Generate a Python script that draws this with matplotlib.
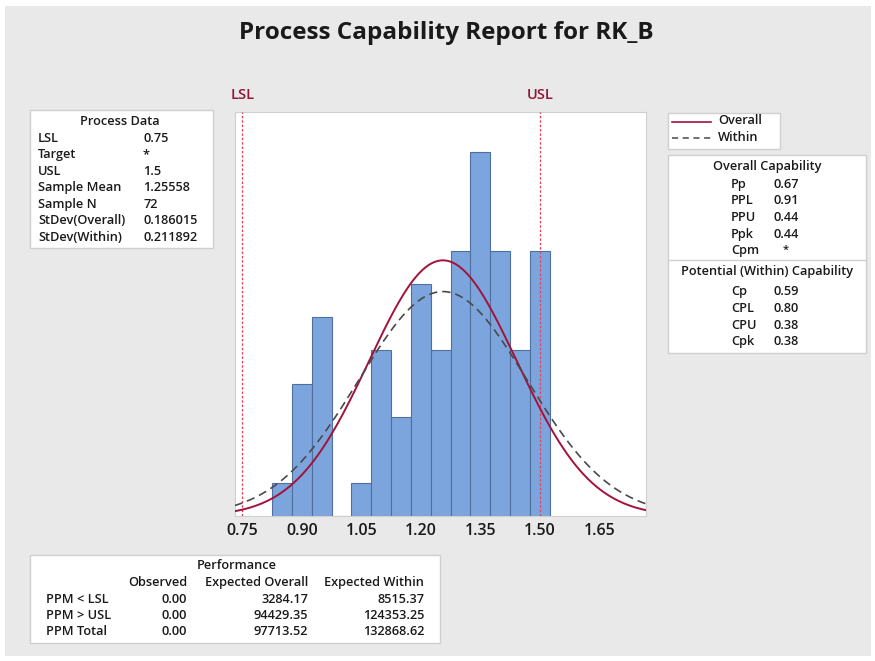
import matplotlib.pyplot as plt
import numpy as np
from matplotlib.patches import Rectangle
from matplotlib.lines import Line2D

plt.rcParams['font.family'] = ['Open Sans', 'DejaVu Sans']

# histogram data (bin centres, counts)
bin_centers = [0.85, 0.90, 0.95, 1.00, 1.05, 1.10, 1.15, 1.20, 1.25, 1.30, 1.35, 1.40, 1.45, 1.50]
counts = [1, 4, 6, 0, 1, 5, 3, 7, 5, 8, 11, 8, 5, 8]
bin_width = 0.05
x_ticks = [0.75, 0.90, 1.05, 1.20, 1.35, 1.50, 1.65]

lsl = 0.75
usl = 1.5
mean = 1.25558
n = 72
sd_overall = 0.186015
sd_within = 0.211892

process_labels = ["LSL", "Target", "USL", "Sample Mean", "Sample N", "StDev(Overall)", "StDev(Within)"]
process_values = ["0.75", "*", "1.5", "1.25558", "72", "0.186015", "0.211892"]

overall_labels = ["Pp", "PPL", "PPU", "Ppk", "Cpm"]
overall_values = ["0.67", "0.91", "0.44", "0.44", "*"]
within_labels = ["Cp", "CPL", "CPU", "Cpk"]
within_values = ["0.59", "0.80", "0.38", "0.38"]

perf_cols = ["Observed", "Expected Overall", "Expected Within"]
perf_rows = ["PPM < LSL", "PPM > USL", "PPM Total"]
perf_observed = ["0.00", "0.00", "0.00"]
perf_overall = ["3284.17", "94429.35", "97713.52"]
perf_within = ["8515.37", "124353.25", "132868.62"]

W, H = 875, 661
fig = plt.figure(figsize=(W / 100, H / 100), dpi=100)
fig.patch.set_facecolor('white')

def fx(x):
    return x / W

def fy(y):
    return 1 - y / H

# grey panel behind everything
fig.patches.append(Rectangle((fx(5), fy(656)), fx(866), 650 / H, transform=fig.transFigure,
                             facecolor='#E9E9E9', edgecolor='none', zorder=-5))

def box(x0, y0, x1, y1):
    fig.patches.append(Rectangle((fx(x0), fy(y1)), fx(x1 - x0), (y1 - y0) / H,
                                 transform=fig.transFigure, facecolor='white',
                                 edgecolor='#CFCFCF', lw=1, zorder=1))

def txt(x, y, s, ha='left', size=9.2, **kw):
    fig.text(fx(x), fy(y), s, ha=ha, va='center', fontsize=size, color='#1A1A1A',
             fontweight='semibold', zorder=3, **kw)

def val_txt(x, y, s):
    # a lone asterisk sits centred in the value column
    if s == "*":
        txt(x + 12, y, s, ha='center', size=8)
    else:
        txt(x, y, s)

fig.text(fx(446), fy(33), "Process Capability Report for RK_B", ha='center', va='center',
         fontsize=17.5, fontweight='bold', color='#1A1A1A')

# main histogram
ax = fig.add_axes([fx(235), fy(516), fx(646 - 235), (516 - 112) / H], zorder=2)
ax.bar(bin_centers, counts, width=bin_width, color='#7DA5DD', edgecolor='#4F6F9F', lw=0.8, zorder=2)

xs = np.linspace(0.73, 1.77, 400)
scale = n * bin_width
pdf_overall = scale * np.exp(-0.5 * ((xs - mean) / sd_overall) ** 2) / (sd_overall * np.sqrt(2 * np.pi))
pdf_within = scale * np.exp(-0.5 * ((xs - mean) / sd_within) ** 2) / (sd_within * np.sqrt(2 * np.pi))
ax.plot(xs, pdf_overall, color='#A3123A', lw=1.4, zorder=4)
ax.plot(xs, pdf_within, color='#4A4A4A', lw=1.2, ls=(0, (5, 3)), zorder=4)

for v, lab in [(lsl, "LSL"), (usl, "USL")]:
    ax.axvline(v, color='#E2405E', lw=0.9, ls=(0, (2, 1.5)), zorder=3)
    ax.text(v, 1.025, lab, transform=ax.get_xaxis_transform(), ha='center', va='bottom',
            fontsize=10.5, fontweight='semibold', color='#8E1538', clip_on=False)

ax.set_xlim(0.7316, 1.7674)
ax.set_ylim(0, 12.2)
ax.set_xticks(x_ticks)
ax.set_xticklabels([f"{t:.2f}" for t in x_ticks], fontsize=11.5, fontweight='semibold', color='#1A1A1A')
ax.tick_params(axis='x', length=0, pad=5)
ax.set_yticks([])
for sp in ax.spines.values():
    sp.set_color('#D0D0D0')
    sp.set_linewidth(0.8)

# process data box
box(30, 110, 213, 248)
txt(120, 121.5, "Process Data", ha='center')
for i, (lab, val) in enumerate(zip(process_labels, process_values)):
    y = 138 + i * 16.6
    txt(38, y, lab)
    txt(143, y, val)

# legend box
box(668, 113, 780, 149)
fig.add_artist(Line2D([fx(672), fx(711)], [fy(122), fy(122)], transform=fig.transFigure,
                      color='#A3123A', lw=1.2, zorder=3))
fig.add_artist(Line2D([fx(672), fx(711)], [fy(138), fy(138)], transform=fig.transFigure,
                      color='#4A4A4A', lw=1.1, ls=(0, (4, 3)), zorder=3))
txt(718, 121, "Overall")
txt(718, 137.5, "Within")

# capability box
box(668, 155, 866, 353)
txt(767, 166.5, "Overall Capability", ha='center')
for i, (lab, val) in enumerate(zip(overall_labels, overall_values)):
    y = 184 + i * 16.7
    txt(731, y, lab)
    val_txt(774, y, val)
fig.add_artist(Line2D([fx(668), fx(866)], [fy(260), fy(260)], transform=fig.transFigure,
                      color='#CFCFCF', lw=1, zorder=3))
txt(767, 271, "Potential (Within) Capability", ha='center')
for i, (lab, val) in enumerate(zip(within_labels, within_values)):
    y = 291.5 + i * 16.8
    txt(731, y, lab)
    val_txt(774, y, val)

# performance box
box(30, 555, 440, 643)
txt(237, 565.5, "Performance", ha='center')
col_x = [187, 308, 424]
for cx, c in zip(col_x, perf_cols):
    txt(cx, 582.5, c, ha='right')
for i, lab in enumerate(perf_rows):
    y = 599.5 + i * 15.8
    txt(46, y, lab)
    for cx, vals in zip(col_x, [perf_observed, perf_overall, perf_within]):
        txt(cx, y, vals[i], ha='right')

fig.savefig("out.png", dpi=100)
